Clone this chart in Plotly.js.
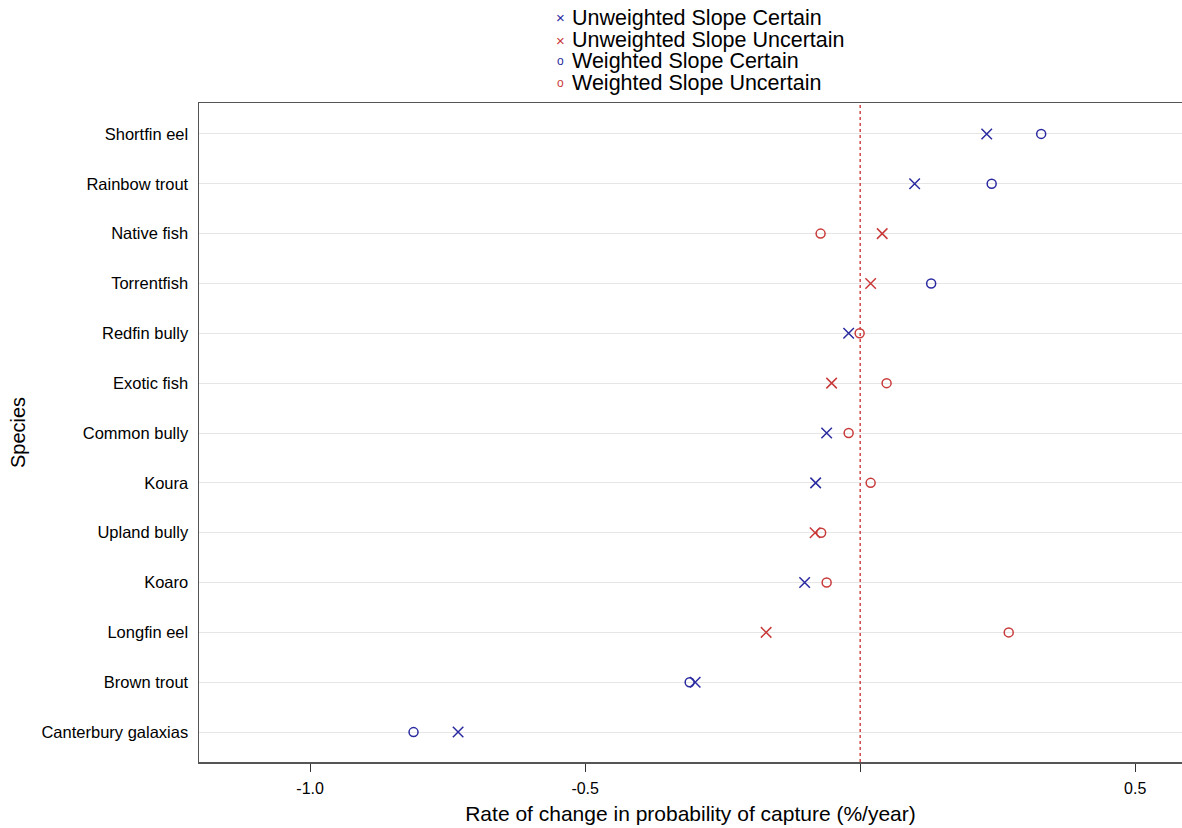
<!DOCTYPE html>
<html>
<head>
<meta charset="utf-8">
<script src="https://cdn.plot.ly/plotly-3.0.1.min.js"></script>
<style>
  html, body { margin: 0; padding: 0; background: #ffffff; }
  #chart { width: 1182px; height: 828px; }
</style>
</head>
<body>
<div id="chart"></div>
<script>
// Species, top to bottom
const species = [
  "Shortfin eel", "Rainbow trout", "Native fish", "Torrentfish", "Redfin bully",
  "Exotic fish", "Common bully", "Koura", "Upland bully", "Koaro",
  "Longfin eel", "Brown trout", "Canterbury galaxias"
];

// Unweighted slope (%/year) and whether it is certain
const unweighted = [0.230, 0.099, 0.040, 0.019, -0.021, -0.052, -0.061, -0.081, -0.082, -0.101, -0.171, -0.300, -0.731];
const unweightedCertain = [true, true, false, false, true, false, true, true, false, true, false, true, true];

// Weighted slope (%/year) and whether it is certain
const weighted = [0.329, 0.239, -0.072, 0.129, -0.001, 0.048, -0.021, 0.019, -0.071, -0.061, 0.270, -0.310, -0.812];
const weightedCertain = [true, true, false, true, false, false, false, false, false, false, false, true, true];

// Series names, in legend order
const seriesNames = [
  "Unweighted Slope Certain",
  "Unweighted Slope Uncertain",
  "Weighted Slope Certain",
  "Weighted Slope Uncertain"
];

const blue = "#2a2aa0";
const red = "#c83a3a";

const seriesStyle = [
  { symbol: "x-thin-open", color: blue, size: 10.5, key: "\u00d7", keySize: 15 },
  { symbol: "x-thin-open", color: red, size: 10.5, key: "\u00d7", keySize: 15 },
  { symbol: "circle-open", color: blue, size: 9, key: "o", keySize: 12 },
  { symbol: "circle-open", color: red, size: 9, key: "o", keySize: 12 }
];

function pick(values, flags, want) {
  const xs = [], ys = [];
  values.forEach((v, i) => {
    if (flags[i] === want) { xs.push(v); ys.push(i); }
  });
  return { xs, ys };
}

const groups = [
  pick(unweighted, unweightedCertain, true),
  pick(unweighted, unweightedCertain, false),
  pick(weighted, weightedCertain, true),
  pick(weighted, weightedCertain, false)
];

const traces = groups.map((g, k) => ({
  type: "scatter",
  mode: "markers",
  name: seriesNames[k],
  x: g.xs,
  y: g.ys,
  marker: {
    symbol: seriesStyle[k].symbol,
    size: seriesStyle[k].size,
    color: seriesStyle[k].color,
    line: { color: seriesStyle[k].color, width: 1.5 }
  },
  showlegend: false,
  hoverinfo: "x+name"
}));

// Compact key above the plot: a small glyph and the series name per row
const plotLeft = 199, plotWidth = 983, plotBottom = 762, plotHeight = 659;
const px = (x) => (x - plotLeft) / plotWidth;
const py = (y) => (plotBottom - y) / plotHeight;
const keyRows = [18, 40, 61.5, 83];
const keyAnnotations = [];
seriesNames.forEach((name, k) => {
  keyAnnotations.push({
    xref: "paper", yref: "paper",
    x: px(560), y: py(keyRows[k]),
    xanchor: "center", yanchor: "middle",
    text: seriesStyle[k].key,
    showarrow: false,
    font: { size: seriesStyle[k].keySize, color: seriesStyle[k].color }
  });
  keyAnnotations.push({
    xref: "paper", yref: "paper",
    x: px(570), y: py(keyRows[k]),
    xanchor: "left", yanchor: "middle",
    text: name,
    showarrow: false,
    font: { size: 21.5, color: "#000000" }
  });
});

const layout = {
  width: 1182,
  height: 828,
  margin: { l: 199, r: 0, t: 103, b: 66 },
  paper_bgcolor: "#ffffff",
  plot_bgcolor: "#ffffff",
  font: { family: "Liberation Sans, Arial, sans-serif", color: "#000000" },
  showlegend: false,
  xaxis: {
    range: [-1.202, 0.585],
    tickvals: [-1.0, -0.5, 0.0, 0.5],
    ticktext: ["-1.0", "-0.5", "", "0.5"],
    ticks: "outside", ticklen: 8, tickwidth: 1.2, tickcolor: "#333333",
    ticklabelstandoff: 3,
    tickfont: { size: 16 },
    showgrid: false,
    zeroline: false,
    showline: true, linecolor: "#555555", linewidth: 1.5, mirror: true,
    automargin: false,
    title: { text: "Rate of change in probability of capture (%/year)", font: { size: 21 }, standoff: 10 }
  },
  yaxis: {
    range: [12.6, -0.62],
    tickvals: species.map((_, i) => i),
    ticktext: species,
    ticks: "",
    ticklabelstandoff: 6,
    tickfont: { size: 16.5 },
    showgrid: true, gridcolor: "#e6e6e6", gridwidth: 1,
    zeroline: false,
    showline: true, linecolor: "#555555", linewidth: 1.5,
    automargin: false,
    title: { text: "Species", font: { size: 20 }, standoff: 10 }
  },
  annotations: keyAnnotations,
  shapes: [{
    type: "line", xref: "x", yref: "paper",
    x0: 0, x1: 0, y0: 0, y1: 1,
    line: { color: "#d04848", width: 1.5, dash: "dot" }
  }]
};

Plotly.newPlot("chart", traces, layout, { displayModeBar: false, staticPlot: true });
</script>
</body>
</html>
